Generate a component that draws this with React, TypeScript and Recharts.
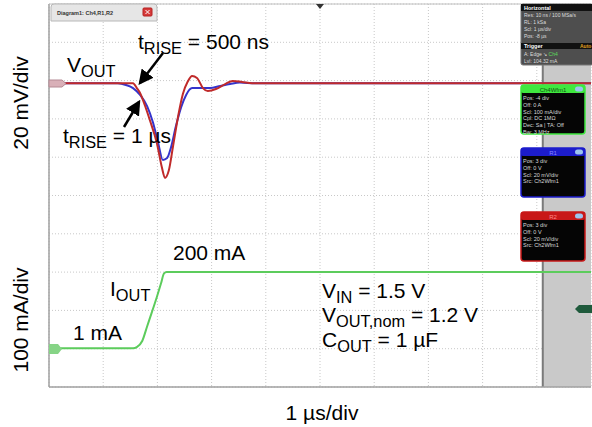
import { CartesianGrid, ComposedChart, Line, ReferenceArea, ReferenceLine, XAxis, YAxis } from "recharts";

const FONT = "'Liberation Sans', Arial, sans-serif";

// scope grid: 10 x 10 divisions, 1 µs/div
const divisions = [0, 1, 2, 3, 4, 5, 6, 7, 8, 9, 10];

// channel settings (position in div, scale per div)
const VOUT_POS = 8;
const VOUT_SCALE = 20; // mV/div
const IOUT_POS = 1;
const IOUT_SCALE = 100; // mA/div

// VOUT, tRISE = 500 ns (red trace): time in µs, deviation in mV
const redTime = [0, 1.55, 1.62, 1.68, 1.77, 1.86, 1.99, 2.08, 2.14, 2.21, 2.29, 2.38, 2.47, 2.56, 2.64, 2.73, 2.84, 2.93, 3.08, 3.25, 3.39, 3.56, 3.75, 10];
const redMv = [-1.4, -1.4, -3.9, -6.5, -13, -20.6, -32.6, -45, -50.8, -47, -34, -19, -7, -0.5, 2.4, 1.4, -3.9, -5.4, -4.4, -1.8, -0.2, -0.7, -1.4, -1.4];

// VOUT, tRISE = 1 µs (blue trace)
const blueTime = [0, 1.27, 1.42, 1.55, 1.68, 1.81, 1.92, 2.01, 2.1, 2.18, 2.25, 2.34, 2.44, 2.53, 2.64, 2.79, 2.97, 3.16, 3.34, 3.52, 3.8, 10];
const blueMv = [-1.4, -1.4, -2.3, -3.9, -7.5, -13.3, -22, -32, -41.4, -40.4, -35, -24, -13.8, -7.5, -3.9, -3.9, -3.9, -2.8, -1.8, -1.0, -1.4, -1.4];

// IOUT load step (green trace), mA
const ioutTime = [0, 1.55, 1.62, 1.72, 1.81, 1.9, 1.99, 2.07, 2.12, 2.17, 10];
const ioutMa = [1, 1, 4, 20, 58, 96, 135, 172, 196, 200, 200];

const redData = redTime.map((t, i) => ({ t, y: VOUT_POS + redMv[i] / VOUT_SCALE }));
const blueData = blueTime.map((t, i) => ({ t, y: VOUT_POS + blueMv[i] / VOUT_SCALE }));
const ioutData = ioutTime.map((t, i) => ({ t, y: IOUT_POS + ioutMa[i] / IOUT_SCALE }));

const Sub = ({ main, sub, rest, x, y, size = 21 }: { main: string; sub: string; rest: string; x: number; y: number; size?: number }) => (
  <text x={x} y={y} fontSize={size} fontFamily={FONT} fill="#000">
    <tspan>{main}</tspan>
    <tspan fontSize={size * 0.78} dy={5}>{sub}</tspan>
    <tspan dy={-5}>{rest}</tspan>
  </text>
);

type BoxProps = {
  y: number;
  h: number;
  header: string;
  headColor: string;
  headText: string;
  lines: string[];
};

const ChannelBox = ({ y, h, header, headColor, headText, lines }: BoxProps) => (
  <g fontFamily={FONT}>
    <rect x={521} y={y} width={64} height={h} rx={3} fill="#050505" stroke={headColor} strokeWidth={1.5} />
    <rect x={521} y={y} width={64} height={8} rx={2} fill={headColor} />
    <text x={553} y={y + 6.5} fontSize={6} textAnchor="middle" fill={headText}>{header}</text>
    <rect x={575} y={y + 1.5} width={8} height={5} rx={2.5} fill="#9cc4ee" />
    {lines.map((l, i) => (
      <text key={i} x={523} y={y + 15 + i * 6.8} fontSize={5.5} fill="#d8d8d8">{l}</text>
    ))}
  </g>
);

const Overlay = () => (
  <svg width={592} height={427} style={{ position: "absolute", left: 0, top: 0, pointerEvents: "none" }}>
    <defs>
      <marker id="head" markerWidth="6" markerHeight="6" refX="5" refY="3" orient="auto" markerUnits="strokeWidth">
        <path d="M0,0 L6,3 L0,6 z" fill="#000" />
      </marker>
    </defs>

    {/* diagram tab */}
    <path d="M51,21 L51,7 Q51,4 54,4 L154,4 Q157,4 157,7 L157,21 Z" fill="#e6e6e6" stroke="#b8b8b8" />
    <text x={57} y={15} fontSize={5.5} fontWeight="bold" fontFamily={FONT} fill="#333">Diagram1: Ch4,R1,R2</text>
    <rect x={143} y={8} width={9} height={8} rx={1} fill="#d63a3a" stroke="#b52020" />
    <path d="M145.5,10 L149.5,14 M149.5,10 L145.5,14" stroke="#fff" strokeWidth={1} />

    {/* trigger position marker */}
    <path d="M316,4 L324,4 L320,9 Z" fill="#333" />

    {/* horizontal / trigger box */}
    <g fontFamily={FONT}>
      <rect x={521} y={4} width={72} height={61} rx={2} fill="#4e4e4e" stroke="#777" />
      <rect x={521} y={4} width={72} height={7} fill="#111" />
      <text x={524} y={9.8} fontSize={5.5} fontWeight="bold" fill="#fff">Horizontal</text>
      <text x={524} y={17} fontSize={5} fill="#ddd">Res: 10 ns / 100 MSa/s</text>
      <text x={524} y={24} fontSize={5} fill="#ddd">RL: 1 kSa</text>
      <text x={524} y={31} fontSize={5} fill="#ddd">Scl: 1 µs/div</text>
      <text x={524} y={38} fontSize={5} fill="#ddd">Pos: -8 µs</text>
      <rect x={521} y={43} width={72} height={6} fill="#111" />
      <text x={524} y={48} fontSize={5.5} fontWeight="bold" fill="#fff">Trigger</text>
      <text x={580} y={48} fontSize={5} fontWeight="bold" fill="#e0a020">Auto</text>
      <text x={524} y={56} fontSize={5} fill="#ddd">A:   Edge ↘ <tspan fill="#5ddc5d">Ch4</tspan></text>
      <text x={524} y={63} fontSize={5} fill="#ddd">Lvl:  104.32 mA</text>
    </g>

    <ChannelBox y={85} h={49} header="Ch4Wfm1" headColor="#3fe83f" headText="#115511"
      lines={["Pos: -4 div", "Off: 0 A", "Scl: 100 mA/div", "Cpl: DC 1MΩ", "Dec: Sa | TA: Off", "Bw: 3 MHz"]} />
    <ChannelBox y={148} h={49} header="R1" headColor="#1c1ccc" headText="#8888ff"
      lines={["Pos: 3 div", "Off: 0 V", "Scl: 20 mV/div", "Src: Ch2Wfm1"]} />
    <ChannelBox y={212} h={49} header="R2" headColor="#c81818" headText="#ff8888"
      lines={["Pos: 3 div", "Off: 0 V", "Scl: 20 mV/div", "Src: Ch2Wfm1"]} />

    {/* channel markers */}
    <path d="M49,80 L62,80 L66,83.5 L62,87 L49,87 Z" fill="#d9b0b8" stroke="#b58a94" />
    <path d="M49,344 L58,344 L62,349 L58,354 L49,354 Z" fill="#86d486" />
    <path d="M575,309 L579,305 L592,305 L592,313 L579,313 Z" fill="#1f5a3c" />

    {/* axis captions */}
    <text transform="translate(28,103) rotate(-90)" textAnchor="middle" fontSize={21} fontFamily={FONT}>20 mV/div</text>
    <text transform="translate(28,320) rotate(-90)" textAnchor="middle" fontSize={21} fontFamily={FONT}>100 mA/div</text>
    <text x={322} y={420} textAnchor="middle" fontSize={21} fontFamily={FONT}>1 µs/div</text>

    {/* annotations */}
    <Sub x={138} y={49} main="t" sub="RISE" rest=" = 500 ns" />
    <Sub x={67} y={72} main="V" sub="OUT" rest="" />
    <Sub x={63} y={143} main="t" sub="RISE" rest=" = 1 µs" />
    <line x1={163} y1={53} x2={140} y2={83} stroke="#000" strokeWidth={2.5} markerEnd="url(#head)" />
    <line x1={124} y1={127} x2={139} y2={102} stroke="#000" strokeWidth={2.5} markerEnd="url(#head)" />

    <text x={173} y={260} fontSize={21} fontFamily={FONT}>200 mA</text>
    <Sub x={110} y={296} main="I" sub="OUT" rest="" />
    <text x={73} y={340} fontSize={21} fontFamily={FONT}>1 mA</text>
    <Sub x={322} y={298} main="V" sub="IN" rest=" = 1.5 V" />
    <Sub x={322} y={322} main="V" sub="OUT,nom" rest=" = 1.2 V" />
    <Sub x={322} y={347} main="C" sub="OUT" rest=" = 1 µF" />
  </svg>
);

export default function App() {
  return (
    <div style={{ position: "absolute", left: 0, top: 0, width: 592, height: 427, background: "#fff" }}>
      <ComposedChart width={592} height={427} margin={{ top: 4, right: 1, bottom: 40, left: 49 }}>
        <CartesianGrid stroke="#c8c8c8" strokeDasharray="1 2" />
        <XAxis type="number" dataKey="t" domain={[0, 10]} ticks={divisions} hide allowDataOverflow />
        <YAxis type="number" domain={[0, 10]} ticks={divisions} hide allowDataOverflow />
        <ReferenceArea x1={9.11} x2={10} y1={0} y2={10} fill="#c9c9c9" fillOpacity={1} stroke="none" />
        <ReferenceLine x={9.11} stroke="#7a7a7a" strokeWidth={2} />
        <ReferenceLine x={0} stroke="#a0a0a0" strokeWidth={1.5} />
        <ReferenceLine y={0} stroke="#a0a0a0" strokeWidth={1.5} />
        <ReferenceLine y={10} stroke="#c0c0c0" strokeWidth={1} />
        <Line data={ioutData} dataKey="y" type="monotone" stroke="#5ccc5c" strokeWidth={2} dot={false} isAnimationActive={false} />
        <Line data={blueData} dataKey="y" type="monotone" stroke="#3434cc" strokeWidth={2} dot={false} isAnimationActive={false} />
        <Line data={redData} dataKey="y" type="monotone" stroke="#c02a2a" strokeWidth={2} dot={false} isAnimationActive={false} />
      </ComposedChart>
      <Overlay />
    </div>
  );
}
